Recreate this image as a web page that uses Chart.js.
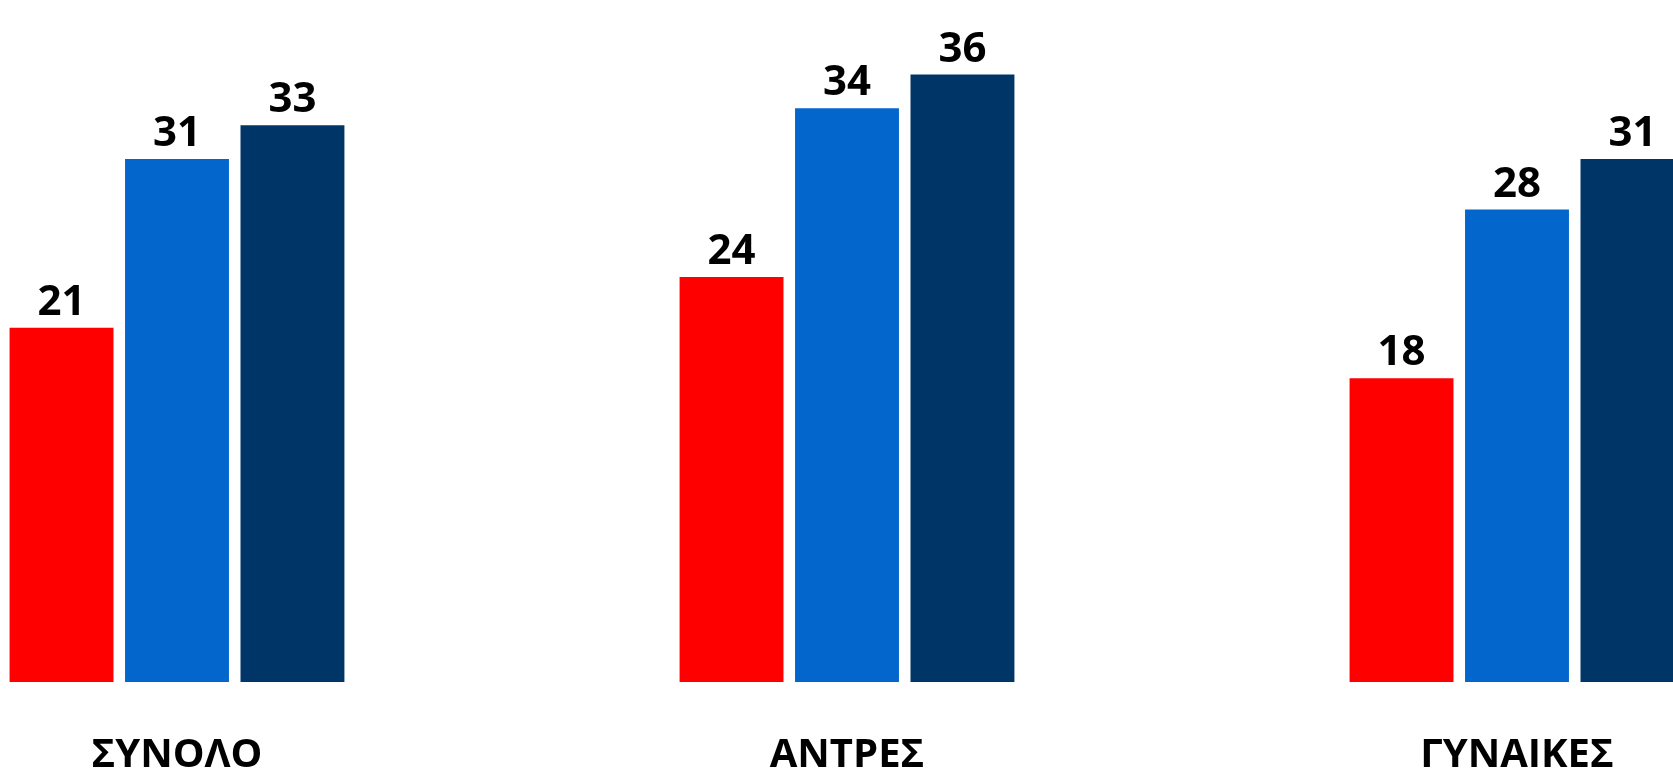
<!DOCTYPE html>
<html>
<head>
<meta charset="utf-8">
<script src="https://cdn.jsdelivr.net/npm/chart.js@4"></script>
<style>
  html, body { margin: 0; padding: 0; background: #fff; overflow: hidden; width: 1673px; height: 774px; }
  #wrap { position: absolute; left: -158px; top: 0; width: 2010px; height: 830px; }
</style>
</head>
<body>
<div id="wrap"><canvas id="barChart"></canvas></div>
<script>
// categories and the three series
var categories = ['ΣΥΝΟΛΟ', 'ΑΝΤΡΕΣ', 'ΓΥΝΑΙΚΕΣ'];
var seriesRed = [21, 24, 18];
var seriesBlue = [31, 34, 28];
var seriesNavy = [33, 36, 31];

// draws the number above each bar
var valueLabels = {
    id: 'valueLabels',
    afterDatasetsDraw: function (chart) {
        var ctx = chart.ctx;
        ctx.save();
        ctx.font = 'bold 42px "Open Sans"';
        ctx.fillStyle = '#000';
        ctx.textAlign = 'center';
        ctx.textBaseline = 'alphabetic';
        chart.data.datasets.forEach(function (ds, i) {
            chart.getDatasetMeta(i).data.forEach(function (bar, j) {
                ctx.fillText(ds.data[j], bar.x, bar.y - 13);
            });
        });
        ctx.restore();
    }
};

document.addEventListener('DOMContentLoaded', function () {
    var ctx = document.getElementById('barChart').getContext('2d');
    new Chart(ctx, {
        type: 'bar',
        data: {
            labels: categories,
            datasets: [
                { data: seriesRed, backgroundColor: '#ff0000' },
                { data: seriesBlue, backgroundColor: '#0366cc' },
                { data: seriesNavy, backgroundColor: '#003567' }
            ]
        },
        options: {
            responsive: true,
            maintainAspectRatio: false,
            animation: false,
            categoryPercentage: 0.517,
            barPercentage: 0.9,
            layout: { padding: { top: 7, left: 0, right: 0, bottom: 0 } },
            plugins: { legend: { display: false }, tooltip: { enabled: false } },
            scales: {
                y: { display: false, min: 0, max: 40 },
                x: {
                    grid: { display: false, drawTicks: false },
                    border: { display: false },
                    ticks: {
                        padding: 50,
                        color: '#000',
                        font: { family: '"Open Sans"', size: 40, weight: 'bold', lineHeight: 1.2 }
                    }
                }
            }
        },
        plugins: [valueLabels]
    });
});
</script>
</body>
</html>
